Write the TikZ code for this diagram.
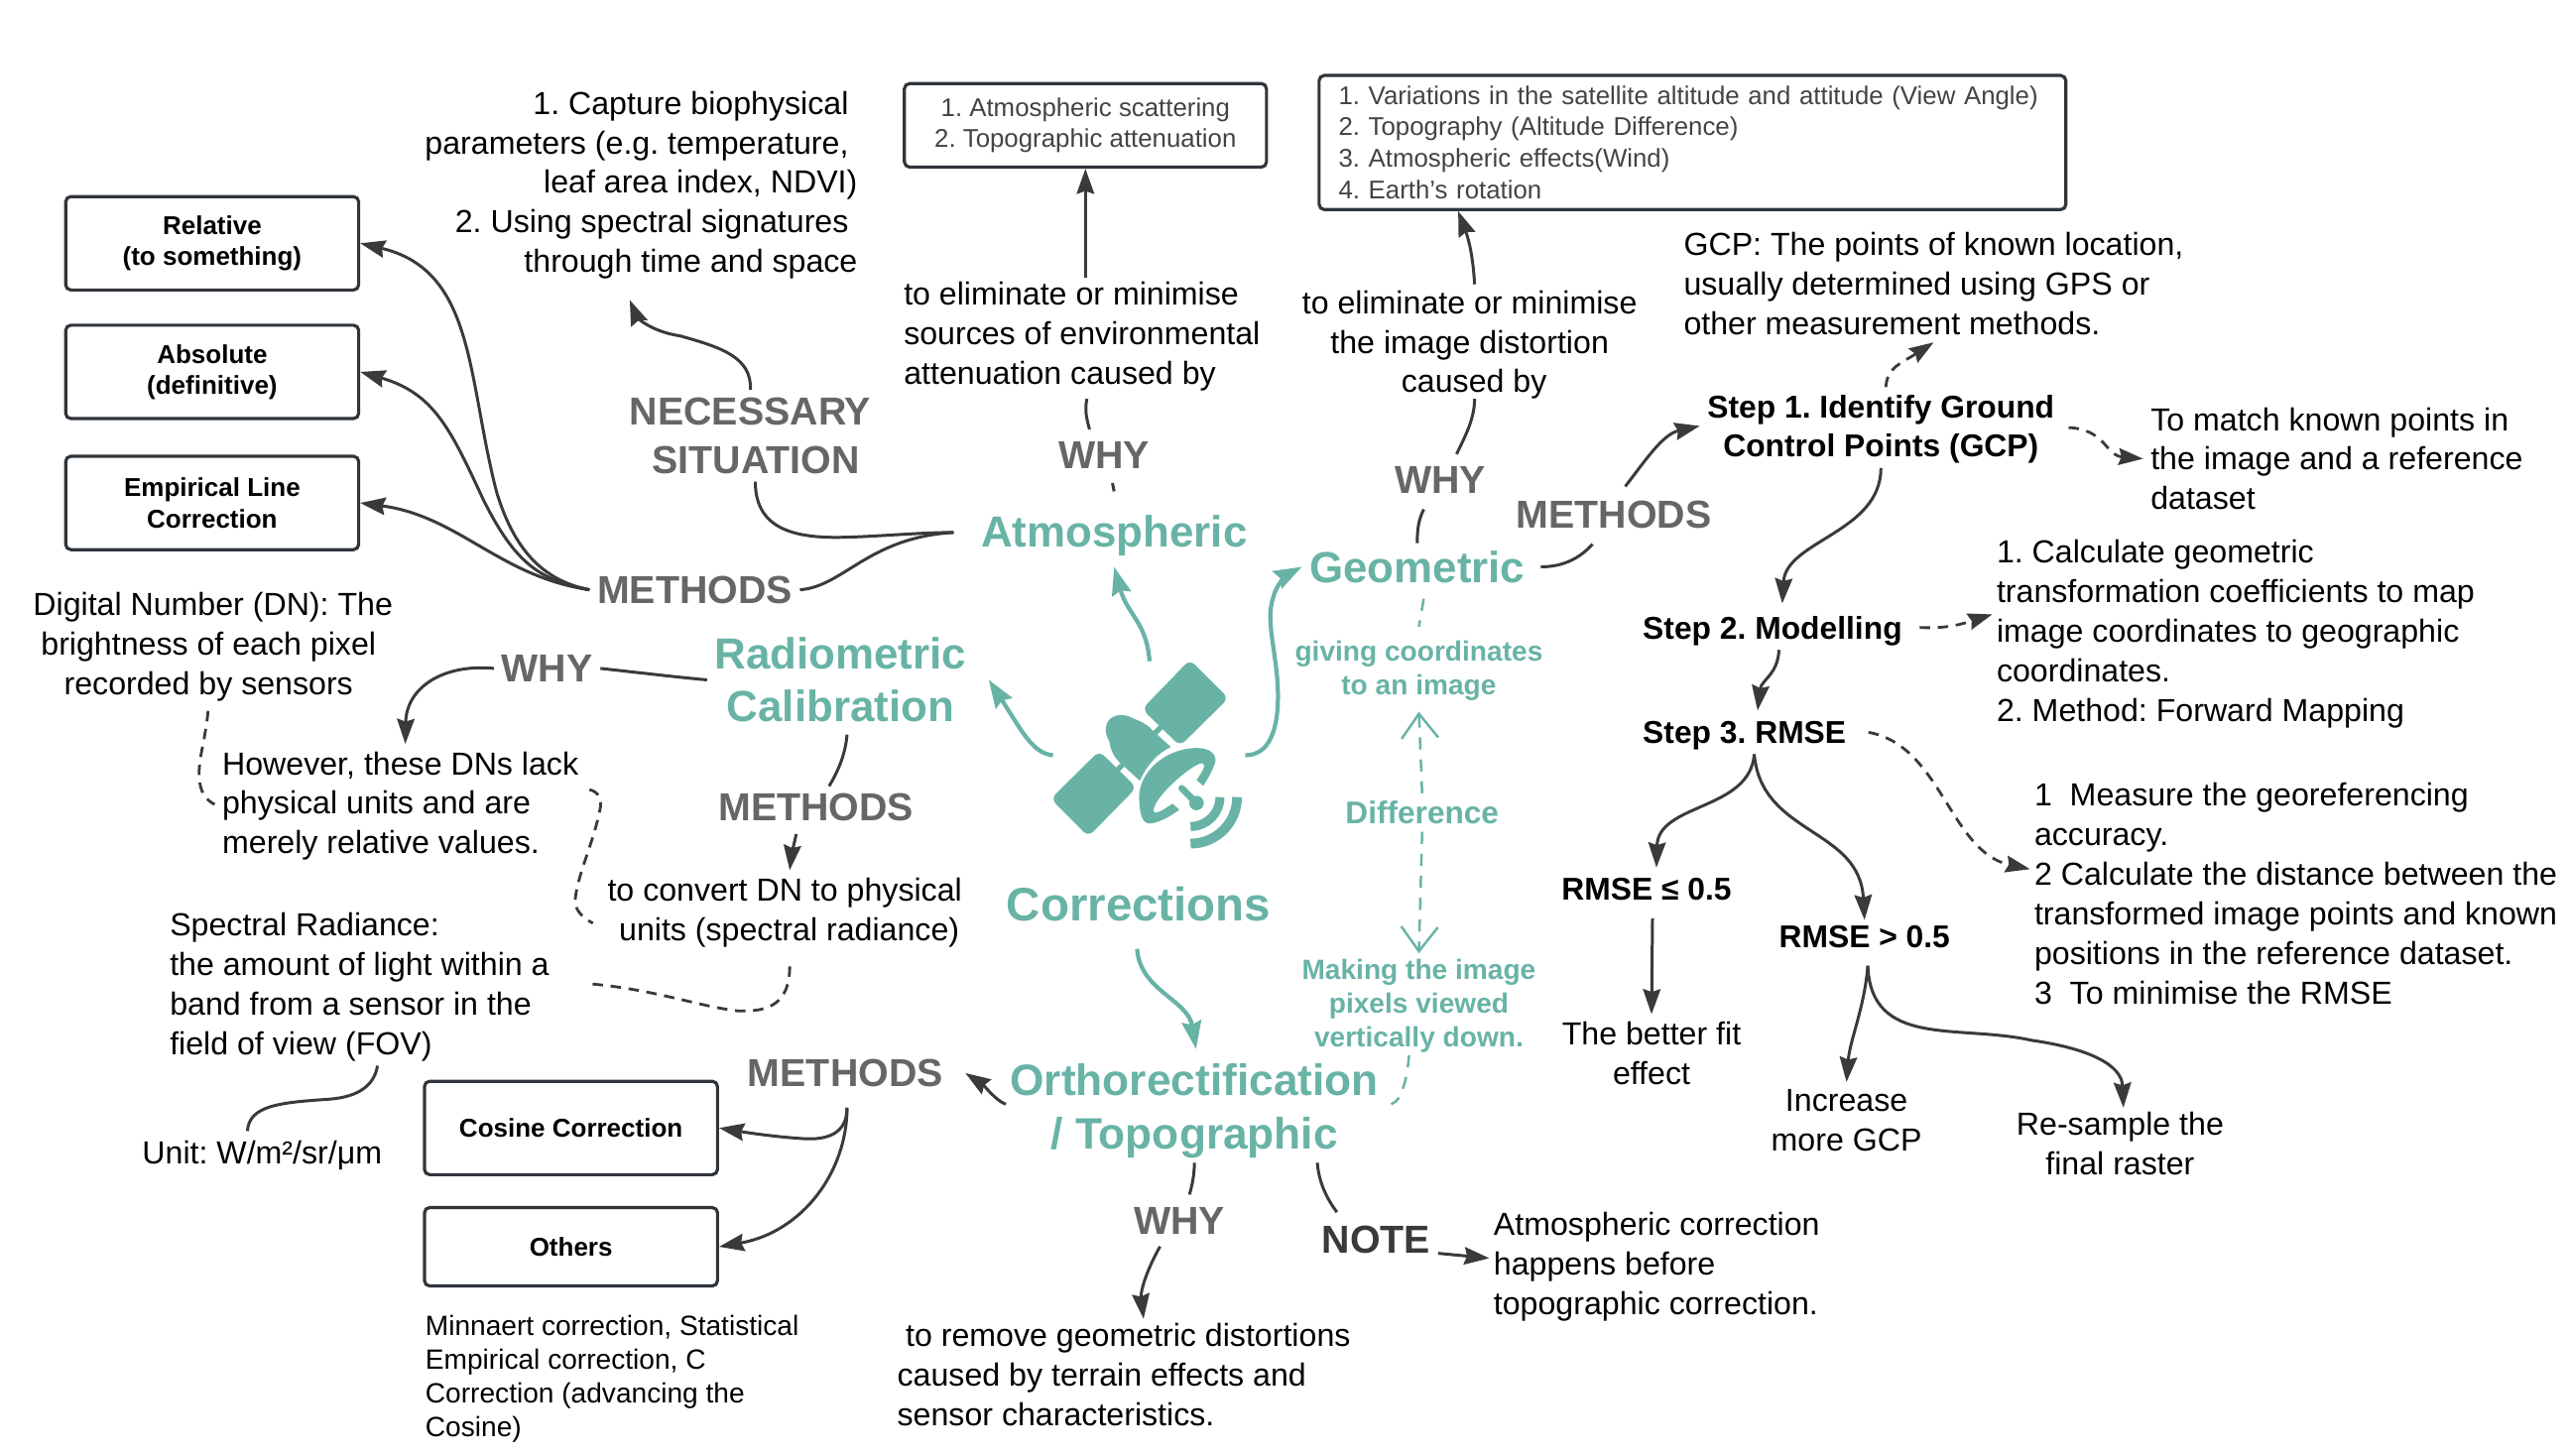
\documentclass[tikz,border=0pt]{standalone}
\usepackage{fontspec}
\setmainfont{Liberation Sans}
\usetikzlibrary{arrows.meta}
\frenchspacing

\definecolor{tealmain}{HTML}{68B3A6}
\definecolor{taggray}{HTML}{666666}
\definecolor{linkgray}{HTML}{3A3A3A}
\definecolor{boxline}{HTML}{2F353A}
\definecolor{boxtext}{HTML}{434343}

\tikzset{
    bodytxt/.style={font=\fontsize{9.15}{11.37}\selectfont, inner sep=2pt, align=left},
    bodymid/.style={bodytxt, align=center},
    tagtxt/.style={font=\fontsize{11.2}{14}\selectfont\bfseries, text=taggray, inner sep=2pt, align=center},
    tealhead/.style={font=\fontsize{12.5}{15}\selectfont\bfseries, text=tealmain, inner sep=2pt, align=center},
    tealsmall/.style={font=\fontsize{8}{9.65}\selectfont\bfseries, text=tealmain, inner sep=2pt, align=center},
    stepbold/.style={font=\fontsize{9.05}{11.37}\selectfont\bfseries, inner sep=2pt, align=center},
    methodbox/.style={draw=boxline, line width=.9pt, rounded corners=1.5pt, minimum width=84.1pt, inner sep=0pt,
        font=\fontsize{7.4}{8.9}\selectfont\bfseries, align=center},
    refbox/.style={draw=boxline, line width=.9pt, rounded corners=1.5pt, inner sep=0pt, text=boxtext,
        font=\fontsize{7.35}{9.07}\selectfont},
    conn/.style={draw=linkgray, line width=.85pt},
    connarrow/.style={conn, -{Stealth[length=7.2pt,width=5pt,inset=.8pt]}},
    conndash/.style={conn, line width=.8pt, dash pattern=on 3pt off 2.2pt},
    dasharrow/.style={conndash, -{Stealth[length=7pt,width=4.8pt,inset=.8pt]}},
    tealarrow/.style={draw=tealmain, line width=1.2pt, -{Stealth[length=8pt,width=5.6pt,inset=1pt]}},
    tealdash/.style={draw=tealmain, line width=.7pt, dash pattern=on 3.5pt off 2.8pt},
    tealbarb/.style={tealdash, -{Straight Barb[length=7pt,width=10.5pt]}},
}

\begin{document}
\begin{tikzpicture}[x=0.016518cm,y=-0.016518cm]
    \useasboundingbox (0,0) rectangle (1568,888.7);

    % Satellite
    \begin{scope}[shift={(635.7,399.6)},x=0.003334cm,y=-0.003334cm]
        \fill[tealmain, rounded corners=2pt] (450,15) -- (567,132) -- (420,277) -- (305,165) -- cycle;
        \fill[tealmain, rounded corners=2pt] (175,292) -- (288,403) -- (142,552) -- (28,437) -- cycle;
        \fill[tealmain] (195,225) .. controls (195,190) and (235,170) .. (275,192)
            .. controls (295,200) and (320,210) .. (335,228) -- (392,280)
            .. controls (350,300) and (320,335) .. (298,382) -- (235,325)
            .. controls (215,305) and (208,280) .. (205,262) .. controls (198,250) and (195,240) .. (195,225) -- cycle;
        \draw[tealmain, line width=1.5pt] (342,240) -- (365,217);
        \draw[tealmain, line width=1.5pt] (250,330) -- (228,352);
        \fill[tealmain] (296,430) .. controls (296,360) and (370,285) .. (470,283)
            .. controls (510,283) and (530,300) .. (527,325) .. controls (520,350) and (505,375) .. (490,398)
            -- (470,380) .. controls (485,360) and (500,335) .. (490,330) .. controls (470,320) and (340,430) .. (340,472)
            .. controls (340,490) and (370,470) .. (397,452) -- (418,470)
            .. controls (385,495) and (350,512) .. (325,512) .. controls (305,510) and (296,480) .. (296,430) -- cycle;
        \draw[tealmain, line width=1.9pt, line cap=round] (425,405) -- (470,450);
        \fill[tealmain] (470,450) circle (22);
        \draw[tealmain, line width=2.6pt] (541,432) arc (0:90:89);
        \draw[tealmain, line width=2.8pt] (593,432) arc (0:90:141);
    \end{scope}
    \coordinate (satLeft) at (642.7,461);
    \coordinate (satTop) at (701.6,403.6);
    \coordinate (satRight) at (760,461);

    % Main headings
    \node[tealhead] (atmos) at (680,327) {Atmospheric};
    \node[tealhead] (geo) at (865,346) {Geometric};
    \node[tealhead] (radio) at (513,415) {Radiometric\\Calibration};
    \node[tealhead, font=\fontsize{13.5}{16}\selectfont\bfseries] (corr) at (695,552) {Corrections};
    \node[tealhead, font=\fontsize{12.6}{15.5}\selectfont\bfseries] (ortho) at (729,678) {Orthorectification\\/ Topographic};

    \draw[tealarrow] (satLeft) .. controls (630,460) and (623,445) .. ([shift={(9,0)}]radio.east);
    \draw[tealarrow] (satTop) .. controls (700,380) and (688,375) .. ([shift={(0,2)}]atmos.south);
    \draw[tealarrow] (satRight) .. controls (775,461) and (780,445) .. (780,425)
        .. controls (780,400) and (772,380) .. (777,365) .. controls (779,356) and (787,350) .. (geo.west);
    \draw[tealarrow] ([shift={(-1,12)}]corr.south) .. controls (696,605) and (725,610) .. ([shift={(1,-4)}]ortho.north);

    % Left: radiometric branch
    \node[tagtxt] (necessary) at (458,266) {NECESSARY\\\null~SITUATION};
    \node[tagtxt] (methL) at (424,360) {METHODS};
    \node[tagtxt] (whyL) at (334,408) {WHY};
    \node[tagtxt] (methR) at (498,493) {METHODS};
    \node[bodytxt, anchor=east, align=right] (capture) at (528,113) {1. Capture biophysical~\null\\parameters (e.g. temperature,~\null\\leaf area index, NDVI)\\2. Using spectral signatures~\null\\through time and space};
    \node[methodbox, minimum height=26.8pt] (relative) at (129.5,148.5) {Relative\\(to something)};
    \node[methodbox, minimum height=26.8pt] (absolute) at (129.5,227) {Absolute\\(definitive)};
    \node[methodbox, minimum height=26.8pt] (empirical) at (129.5,307) {Empirical Line\\Correction};
    \node[bodymid] (digital) at (130,395) {Digital Number (DN): The\\brightness of each pixel~\null\\recorded by sensors~\null};
    \node[bodytxt, anchor=west] (however) at (131,492) {However, these DNs lack\\physical units and are\\merely relative values.};
    \node[bodytxt, anchor=west] (spectral) at (99,602.5) {Spectral Radiance:\\the amount of light within a\\band from a sensor in the\\field of view (FOV)};
    \node[bodymid] (unit) at (160,705) {Unit: W/m²/sr/μm};
    \node[bodymid] (convert) at (479,557) {to convert DN to physical\\\null~units (spectral radiance)};

    \draw[connarrow] (necessary.north) .. controls (459,218) and (440,212) .. (415,205)
        .. controls (395,202) and (388,192) .. ([shift={(-7,8)}]capture.south);
    \draw[conn] ([shift={(3,0)}]necessary.south) .. controls (461,320) and (480,328) .. (510,328)
        .. controls (530,328) and (560,325) .. ([shift={(-12,-2)}]atmos.west);
    \draw[conn] (methL.east) .. controls (515,358) and (530,328) .. ([shift={(-12,-2)}]atmos.west);
    \draw[connarrow] (methL.west) .. controls (335,355) and (315,340) .. (303,300)
        .. controls (285,230) and (290,165) .. (relative.east);
    \draw[connarrow] (methL.west) .. controls (330,354) and (315,345) .. (295,305)
        .. controls (275,262) and (265,240) .. (absolute.east);
    \draw[connarrow] (methL.west) .. controls (305,352) and (280,315) .. (empirical.east);
    \draw[conn] (radio.west) .. controls (410,413) and (385,410) .. (whyL.east);
    \draw[connarrow] (whyL.west) .. controls (270,405) and (248,420) .. ([shift={(3,0)}]however.north);
    \draw[conndash] ([shift={(-3,1)}]digital.south) .. controls (125,455) and (120,465) .. (122,478) .. controls (123,485) and (127,489) .. ([shift={(0,-1)}]however.west);
    \draw[conndash] ([shift={(2,-10)}]however.east) .. controls (365,483) and (368,488) .. (366,495)
        .. controls (362,515) and (352,535) .. (351,550) .. controls (351,555) and (355,560) .. ([shift={(22,11)}]spectral.north east);
    \draw[conndash] ([shift={(3,7)}]convert.south) .. controls (482,612) and (470,618) .. (450,617)
        .. controls (425,614) and (400,604) .. ([shift={(20,-2)}]spectral.east);
    \draw[conn] ([shift={(4,3)}]radio.south) .. controls (516,460) and (512,470) .. ([shift={(8,0)}]methR.north);
    \draw[connarrow] ([shift={(-12,3)}]methR.south) .. controls (484,518) and (483,522) .. ([shift={(3,0)}]convert.north);
    \draw[conn] ([shift={(11,-2)}]spectral.south) .. controls (228,665) and (215,670) .. (200,671)
        .. controls (170,673) and (152,675) .. ([shift={(-9,-1)}]unit.north);

    % Atmospheric branch
    \node[refbox, minimum width=103.9pt, minimum height=24pt, align=center] (scatter) at (662.5,76.5) {1. Atmospheric scattering\\2. Topographic attenuation};
    \node[bodytxt, anchor=west] (elimA) at (547,205.5) {to eliminate or minimise\\sources of environmental\\attenuation caused by};
    \node[tagtxt] (whyA) at (674,278) {WHY};
    \draw[connarrow] ([shift={(0,2)}]elimA.north -| scatter.south) -- (scatter.south);
    \draw[conn] ([shift={(3,0)}]elimA.south) .. controls (662,250) and (663,255) .. ([shift={(-9,-3)}]whyA.north);
    \draw[conn] ([shift={(5,4)}]whyA.south) -- ([shift={(0,-10)}]atmos.north);

    % Geometric branch
    \node[refbox, text width=203.1pt, inner xsep=5.6pt, minimum height=38.5pt, align=left] (factors) at (1033,87) {1. Variations in the satellite altitude and attitude (View Angle)\\2. Topography (Altitude Difference)\\3. Atmospheric effects(Wind)\\4. Earth's rotation};
    \node[bodymid] (elimB) at (897,210.5) {to eliminate or minimise\\the image distortion\\\null~caused by};
    \node[tagtxt] (whyG) at (879,293) {WHY};
    \node[tagtxt] (methG) at (985,314) {METHODS};
    \node[tealsmall] (giving) at (866,409.5) {giving coordinates\\to an image};
    \node[tealsmall, font=\fontsize{9}{10}\selectfont\bfseries] (diff) at (868,496) {Difference};
    \node[tealsmall] (making) at (866,614) {Making the image\\pixels viewed\\vertically down.};
    \node[bodytxt, anchor=west] (gcp) at (1023,173) {GCP: The points of known location,\\usually determined using GPS or\\other measurement methods.};
    \node[stepbold] (step1) at (1148,262) {Step 1. Identify Ground\\Control Points (GCP)};
    \node[stepbold, anchor=west] (step2) at (998,385) {Step 2. Modelling};
    \node[stepbold, anchor=west] (step3) at (998,449) {Step 3. RMSE};
    \node[stepbold] (rmseA) at (1005,543) {RMSE ≤ 0.5};
    \node[stepbold] (rmseB) at (1138,572) {RMSE > 0.5};
    \node[bodytxt, anchor=west] (match) at (1308,280) {To match known points in\\the image and a reference\\dataset};
    \node[bodytxt, anchor=west] (calc) at (1214,387) {1. Calculate geometric\\transformation coefficients to map\\image coordinates to geographic\\coordinates.\\2. Method: Forward Mapping};
    \node[bodytxt, anchor=west] (measure) at (1237,545.5) {1~~Measure the georeferencing\\accuracy.\\2 Calculate the distance between the\\transformed image points and known\\positions in the reference dataset.\\3~~To minimise the RMSE};
    \node[bodymid] (better) at (1008,643) {The better fit\\effect};
    \node[bodymid] (increase) at (1127,684) {Increase\\more GCP};
    \node[bodymid] (resample) at (1294,698) {Re-sample the\\final raster};

    \draw[connarrow] ([shift={(3,1)}]elimB.north) .. controls (899,155) and (896,145) .. ([shift={(-143,0)}]factors.south);
    \draw[conn] ([shift={(3,-5)}]elimB.south) .. controls (900,255) and (895,265) .. ([shift={(10,-3)}]whyG.north);
    \draw[conn] ([shift={(-10,5)}]whyG.south) .. controls (866,317) and (865,322) .. (geo.north);
    \draw[conn] ([shift={(5,0)}]geo.east) .. controls (955,346) and (965,340) .. ([shift={(-13,5)}]methG.south);
    \draw[connarrow] ([shift={(7,-4)}]methG.north) .. controls (1005,280) and (1015,265) .. ([shift={(0,-2)}]step1.west);
    \draw[dasharrow] ([shift={(3,0)}]step1.north) .. controls (1152,224) and (1160,222) .. (gcp.south);
    \draw[dasharrow] ([shift={(4,-1)}]step1.east) .. controls (1285,262) and (1285,278) .. (match.west);
    \draw[connarrow] ([shift={(0,-2)}]step1.south) .. controls (1148,325) and (1090,330) .. ([shift={(6,-3)}]step2.north);
    \draw[dasharrow] ([shift={(6,-2)}]step2.east) .. controls (1190,384) and (1200,380) .. ([shift={(2,-12)}]calc.west);
    \draw[connarrow] ([shift={(4,-2)}]step2.south) .. controls (1085,412) and (1075,415) .. ([shift={(8,-2)}]step3.north);
    \draw[dasharrow] ([shift={(9,-2)}]step3.east) .. controls (1185,455) and (1190,520) .. ([shift={(2,-15)}]measure.west);
    \draw[connarrow] ([shift={(6,-2)}]step3.south) .. controls (1068,495) and (1012,490) .. ([shift={(6,-2)}]rmseA.north);
    \draw[connarrow] ([shift={(6,-2)}]step3.south) .. controls (1075,510) and (1135,505) .. ([shift={(0,1)}]rmseB.north);
    \draw[connarrow] ([shift={(3.6,6)}]rmseA.south) -- (better.north);
    \draw[connarrow] ([shift={(2,6)}]rmseB.south) .. controls (1138,615) and (1129,635) .. (increase.north);
    \draw[connarrow] ([shift={(2,6)}]rmseB.south) .. controls (1142,640) and (1195,625) .. (1240,635)
        .. controls (1275,640) and (1295,650) .. ([shift={(2,2)}]resample.north);
    \draw[tealdash] ([shift={(4,5)}]geo.south) -- ([shift={(0,-4)}]giving.north);
    \draw[tealbarb] (diff.north) -- ([shift={(0,2)}]giving.south);
    \draw[tealbarb] (diff.south) -- ([shift={(0,1)}]making.north);

    % Orthorectification branch
    \node[tagtxt] (methB) at (516,655) {METHODS};
    \node[methodbox, minimum height=26.8pt] (cosine) at (348.5,688.5) {Cosine Correction};
    \node[methodbox, minimum height=22.5pt] (others) at (348.5,761) {Others};
    \node[bodytxt, anchor=north west, font=\fontsize{8}{9.7}\selectfont] (minnaert) at (255,798) {Minnaert correction, Statistical\\Empirical correction, C\\Correction (advancing the\\Cosine)};
    \node[tagtxt] (whyB) at (720,745) {WHY};
    \node[tagtxt, text=linkgray] (note) at (840,757) {NOTE};
    \node[bodytxt, anchor=west] (remove) at (543,839) {\hspace{2.4pt}to remove geometric distortions\\caused by terrain effects and\\sensor characteristics.};
    \node[bodytxt, anchor=west] (before) at (907,773) {Atmospheric correction\\happens before\\topographic correction.};

    \draw[connarrow] ([shift={(2,-4)}]ortho.west) .. controls (608,672) and (600,662) .. ([shift={(9,0)}]methB.east);
    \draw[connarrow] ([shift={(1,8)}]methB.south) .. controls (517,692) and (505,696) .. (490,695)
        .. controls (475,694) and (460,692) .. (cosine.east);
    \draw[connarrow] ([shift={(1,8)}]methB.south) .. controls (517,715) and (490,752) .. (others.east);
    \draw[conn] ([shift={(0,-2)}]ortho.south) .. controls (729,716) and (728,722) .. ([shift={(6,-3)}]whyB.north);
    \draw[connarrow] ([shift={(-12,3)}]whyB.south) .. controls (700,775) and (696,788) .. ([shift={(12,2)}]remove.north);
    \draw[conn] ([shift={(75,-2)}]ortho.south) .. controls (805,722) and (810,732) .. ([shift={(-24,-4)}]note.north);
    \draw[connarrow] ([shift={(0,8)}]note.east) -- ([shift={(2,-5)}]before.west);
    \draw[tealdash] ([shift={(-6,-3)}]making.south) .. controls (859,655) and (858,660) .. (855,668) .. controls (853,672) and (851,673) .. ([shift={(3,-4)}]ortho.east);
\end{tikzpicture}
\end{document}
